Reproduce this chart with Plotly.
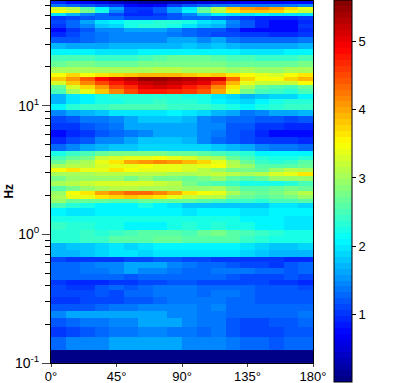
import plotly.graph_objects as go

ANGLE_EDGES = [0,10,20,30,40,50,60,70,80,90,100,110,120,130,140,150,160,170,180]
ANGLE_TICKS = [0,45,90,135,180]
ANGLE_LABELS = ["0°","45°","90°","135°","180°"]
FREQ_EDGES = [.100,.126,.159,.190,.223,.253,.286,.325,.368,.403,.440,.490,.545,.607,.663,.752,.851,.964,
 1.09,1.24,1.40,1.59,1.74,1.90,2.04,2.19,2.36,2.58,2.82,3.08,3.30,3.55,3.81,4.09,4.48,5.07,5.75,6.52,7.38,8.36,9.31,
 10.4,11.3,12.4,13.5,14.6,15.6,16.8,18.0,20.0,22.3,24.8,27.7,30.8,34.3,37.5,40.3,43.3,46.5,49.9,52.6,55.4,58.5,61.8,65.2]
POWER = [
[.1]*18,
[1.3,1.5,1.5,1.5,1.6,1.6,1.6,1.6,1.6,1.5,1.5,1.5,1.4,1.3,1.3,1.2,1.3,1.3],
[1.0,1.1,1.2,1.3,1.4,1.4,1.5,1.5,1.4,1.4,1.3,1.4,1.2,1.1,1.1,1.1,1.2,1.2],
[1.2,1.3,1.4,1.4,1.5,1.5,1.6,1.6,1.6,1.5,1.4,1.4,1.2,1.1,1.1,1.2,1.2,1.3],
[1.5,1.6,1.6,1.6,1.6,1.6,1.6,1.6,1.5,1.5,1.4,1.4,1.3,1.3,1.3,1.3,1.3,1.4],
[1.2,1.2,1.2,1.3,1.4,1.4,1.5,1.5,1.5,1.5,1.4,1.5,1.3,1.3,1.3,1.3,1.3,1.3],
[1.0,1.0,1.1,1.1,1.1,1.2,1.2,1.3,1.4,1.4,1.4,1.4,1.3,1.3,1.2,1.2,1.2,1.2],
[1.1,1.1,1.1,1.2,1.1,1.3,1.3,1.4,1.4,1.4,1.3,1.4,1.4,1.3,1.2,1.2,1.2,1.2],
[1.1,1.0,1.0,1.2,1.3,1.2,1.3,1.4,1.4,1.4,1.3,1.3,1.3,1.3,1.2,1.2,1.2,1.1],
[1.0,.9,.9,.9,1.0,1.0,1.1,1.1,1.2,1.2,1.1,1.1,1.1,1.1,1.1,1.0,1.0,.9],
[1.3,1.3,1.3,1.3,1.3,1.2,1.3,1.3,1.3,1.3,1.3,1.3,1.2,1.1,1.1,1.1,1.2,1.1],
[1.3,1.3,1.4,1.4,1.5,1.6,1.5,1.5,1.4,1.3,1.3,1.4,1.4,1.4,1.3,1.3,1.2,1.3],
[1.3,1.3,1.4,1.5,1.5,1.6,1.6,1.6,1.5,1.4,1.3,1.3,1.2,1.1,1.1,1.0,1.2,1.3],
[1.1,1.0,1.0,1.0,1.0,1.1,1.1,1.2,1.2,1.1,1.1,1.0,1.0,1.0,1.0,1.0,.9,.9],
[1.7,1.7,1.8,1.9,2.0,2.0,1.9,2.0,2.0,2.0,2.0,2.0,2.0,1.9,1.8,1.7,1.7,1.7],
[1.7,1.8,1.8,1.9,2.0,1.9,2.0,2.1,2.1,2.1,2.1,2.1,2.1,2.0,1.9,1.8,1.8,1.9],
[2.3,2.3,2.4,2.4,2.6,2.6,2.6,2.7,2.7,2.6,2.6,2.6,2.6,2.4,2.3,2.2,2.2,2.2],
[2.3,2.3,2.4,2.3,2.4,2.5,2.6,2.6,2.6,2.5,2.7,2.8,2.6,2.5,2.4,2.3,2.2,2.2],
[2.4,2.3,2.3,2.2,2.2,2.1,2.1,2.1,2.2,2.3,2.2,2.3,2.2,2.2,2.1,2.1,2.0,2.0],
[2.2,2.2,2.2,2.2,2.2,2.2,2.2,2.2,2.2,2.2,2.2,2.2,2.2,2.1,2.1,2.1,2.0,2.0],
[2.1,2.0,2.0,2.1,2.1,2.1,2.1,2.1,2.1,2.0,2.1,2.1,2.1,2.0,2.0,2.1,2.1,2.1],
[2.5,2.3,2.2,2.1,2.1,2.1,2.2,2.1,2.0,1.8,1.8,1.8,1.8,1.8,1.8,2.0,2.0,1.9],
[2.9,2.7,2.7,2.7,2.6,2.6,2.7,2.7,2.7,2.7,2.6,2.5,2.4,2.4,2.3,2.5,2.5,2.6],
[3.0,3.4,3.4,3.6,3.7,3.8,3.7,3.6,3.4,3.2,3.1,3.1,2.8,2.7,2.6,2.7,2.8,2.9],
[2.9,3.5,3.6,4.0,4.2,4.3,4.3,4.2,4.0,3.6,3.5,3.4,3.0,2.8,2.7,2.8,2.9,3.1],
[2.6,2.8,2.9,3.0,3.1,3.1,3.0,3.0,3.0,2.9,2.9,3.0,2.8,2.6,2.6,2.7,2.8,2.7],
[3.0,3.1,3.2,3.3,3.3,3.3,3.3,3.2,3.1,2.8,2.6,2.5,2.4,2.2,2.2,2.2,2.3,2.5],
[2.8,2.9,2.9,2.9,2.9,2.8,2.9,2.8,2.8,2.7,2.8,2.9,2.7,2.6,2.7,2.9,2.9,2.9],
[3.0,3.0,3.0,3.1,3.1,3.1,3.1,3.1,3.0,3.0,3.1,3.2,3.1,3.0,3.1,3.3,3.4,3.6],
[3.5,3.6,3.4,3.4,3.6,3.5,3.4,3.4,3.4,3.3,3.1,2.9,2.8,2.8,2.7,2.9,3.1,3.0],
[3.0,3.1,3.1,3.3,3.4,3.4,3.5,3.4,3.4,3.3,3.4,3.5,3.1,2.9,2.6,2.6,2.6,2.7],
[2.7,2.9,3.0,3.4,3.6,4.0,4.1,4.2,4.1,3.9,3.7,3.4,3.0,2.7,2.4,2.3,2.4,2.6],
[2.5,2.7,2.8,3.2,3.3,3.4,3.4,3.5,3.4,3.3,3.1,3.0,2.7,2.5,2.3,2.2,2.2,2.3],
[2.2,2.4,2.5,2.7,2.8,2.8,2.8,2.8,2.7,2.7,2.6,2.5,2.4,2.3,2.1,2.1,2.1,2.1],
[1.3,1.5,1.6,1.7,1.8,1.8,1.9,1.9,1.9,1.9,1.9,1.8,1.7,1.6,1.5,1.4,1.4,1.3],
[.9,1.1,1.2,1.5,1.5,1.6,1.8,1.8,1.8,1.7,1.5,1.3,1.2,1.1,1.0,1.0,1.0,.9],
[.8,.9,1.0,1.2,1.3,1.4,1.5,1.6,1.6,1.6,1.5,1.4,1.2,1.1,.9,.8,.8,.8],
[1.0,1.0,1.2,1.3,1.4,1.6,1.6,1.6,1.6,1.6,1.5,1.5,1.2,1.2,1.0,1.0,.9,.9],
[1.1,1.2,1.4,1.4,1.5,1.6,1.8,1.8,1.8,1.7,1.5,1.4,1.3,1.3,1.2,1.2,1.1,1.2],
[1.5,1.6,1.7,1.8,2.0,2.0,2.0,2.0,2.1,2.0,1.9,1.7,1.6,1.4,1.5,1.6,1.6,1.7],
[2.1,2.3,2.4,2.4,2.5,2.5,2.5,2.5,2.4,2.4,2.4,2.3,2.2,2.1,2.2,2.3,2.4,2.4],
[1.7,2.0,2.1,2.2,2.2,2.3,2.3,2.4,2.3,2.3,2.2,2.1,2.0,1.9,2.1,2.2,2.3,2.3],
[1.7,2.0,2.1,2.2,2.3,2.3,2.3,2.3,2.3,2.2,2.2,2.0,1.9,1.7,1.8,1.9,1.9,2.1],
[2.5,3.0,3.4,3.8,4.2,4.5,4.8,4.8,4.7,4.6,4.4,4.0,3.4,2.8,2.5,2.4,2.3,2.5],
[2.7,3.3,3.7,4.1,4.5,4.7,5.0,5.1,5.0,4.8,4.6,4.2,3.6,3.0,2.7,2.6,2.5,2.7],
[3.3,3.8,4.2,4.5,4.8,5.0,5.2,5.3,5.2,5.1,5.0,4.6,3.9,3.4,3.2,3.2,3.2,3.5],
[3.8,4.1,4.4,4.9,5.1,5.3,5.5,5.5,5.4,5.3,5.2,5.1,4.3,3.7,3.5,3.5,3.7,3.9],
[3.5,3.7,3.5,3.6,3.7,3.8,3.9,3.9,3.9,3.8,3.7,3.8,3.6,3.5,3.4,3.3,3.5,3.6],
[3.0,3.0,3.0,3.0,3.0,3.0,3.0,3.1,3.1,3.0,3.0,3.0,2.9,3.0,2.9,2.9,3.0,3.0],
[2.7,2.8,2.8,2.7,2.7,2.7,2.8,2.8,2.8,2.8,2.8,2.8,2.7,2.7,2.7,2.7,2.7,2.8],
[2.5,2.5,2.5,2.4,2.4,2.4,2.5,2.6,2.7,2.7,2.7,2.6,2.5,2.5,2.4,2.4,2.4,2.5],
[2.1,2.1,2.1,2.0,2.0,2.0,2.1,2.1,2.1,2.1,2.1,2.1,2.1,2.0,2.0,2.0,2.1,2.1],
[1.7,1.6,1.6,1.6,1.7,1.7,1.7,1.7,1.7,1.8,1.7,1.8,1.7,1.6,1.6,1.6,1.6,1.7],
[1.2,1.2,1.3,1.4,1.5,1.5,1.5,1.5,1.6,1.6,1.5,1.6,1.4,1.3,1.3,1.3,1.3,1.4],
[.9,1.1,1.3,1.4,1.5,1.5,1.5,1.5,1.4,1.3,1.2,1.1,1.1,1.0,1.0,.9,.9,1.0],
[.8,1.0,1.2,1.5,1.5,1.6,1.6,1.6,1.5,1.3,1.2,1.2,1.0,.8,.8,.8,.8,.9],
[1.0,1.3,1.5,1.8,1.9,2.2,2.3,2.3,2.2,2.0,1.8,1.7,1.4,1.2,.9,.8,.8,1.0],
[1.1,1.3,1.6,2.0,2.1,2.2,2.2,2.3,2.3,2.2,2.0,1.9,1.5,1.2,.9,.8,.8,.9],
[1.0,1.1,1.2,1.3,1.3,1.1,1.1,1.1,1.2,1.3,1.3,1.2,1.1,1.0,.9,.9,.9,1.0],
[2.0,1.7,1.5,1.3,1.1,.9,.9,1.0,1.2,1.5,1.8,2.1,2.0,2.0,2.1,2.0,2.0,2.0],
[3.5,3.3,2.8,2.2,1.5,1.0,.9,1.2,1.6,2.1,2.7,3.1,3.6,3.8,3.8,3.7,3.4,3.2],
[3.3,3.1,2.6,2.1,1.6,1.0,1.0,1.2,1.6,2.0,2.6,3.1,3.8,4.1,4.2,4.0,3.7,3.4],
[1.4,1.3,1.2,1.1,1.0,.8,.7,.8,1.0,1.2,1.3,1.4,1.4,1.4,1.4,1.4,1.4,1.5],
[.9,.8,.7,.6,.4,.3,.2,.2,.3,.4,.5,.5,.6,.7,.7,.7,.8,.8],
]
Y_MAJOR = [0.1, 1, 10]
Y_LABELS = ["10<sup>-1</sup>", "10<sup>0</sup>", "10<sup>1</sup>"]
Y_MINOR = [.2,.3,.4,.5,.6,.7,.8,.9,2,3,4,5,6,7,8,9,20,30,40,50,60]
CBAR_TICKS = [1,2,3,4,5]

def jet(t):
    f = lambda a: max(0.0, min(1.0, 1.5 - abs(4*t - a)))
    return "rgb(%d,%d,%d)" % (255*f(3), 255*f(2), 255*f(1))

N = 64
scale = []
for i in range(N):
    c = jet((i + 0.5) / N)
    scale += [[i / N, c], [(i + 1) / N, c]]

W, H = 418, 383
L, R, T, B = 51, 313, 1, 363
FONT = "Liberation Sans, Arial, sans-serif"

fig = go.Figure(go.Heatmap(
    x=ANGLE_EDGES, y=FREQ_EDGES, z=POWER, zmin=0.02, zmax=5.6, colorscale=scale, zsmooth=False,
    colorbar=dict(
        thickness=18, thicknessmode="pixels", lenmode="pixels", len=382,
        x=(334 - L) / (R - L), xanchor="left", xpad=0,
        y=1 + T / (B - T) , yanchor="top", ypad=0,
        outlinecolor="black", outlinewidth=1, borderwidth=0,
        tickvals=CBAR_TICKS, ticks="outside", ticklen=4, tickcolor="black",
        tickfont=dict(size=13, color="black", family=FONT)),
))
fig.update_layout(
    width=W, height=H, margin=dict(l=L, r=W - R, t=T, b=H - B, autoexpand=False, pad=0),
    paper_bgcolor="white", plot_bgcolor="white", font=dict(family=FONT, size=13, color="black"),
    xaxis=dict(range=[0, 180], tickvals=ANGLE_TICKS, ticktext=ANGLE_LABELS, ticks="outside", ticklen=3,
               ticklabelstandoff=-2,
               showgrid=False, zeroline=False, showline=True, mirror=True, linecolor="black", linewidth=1,
               tickfont=dict(size=13)),
    yaxis=dict(type="log", range=[-1, 1.814], tickvals=Y_MAJOR, ticktext=Y_LABELS, ticks="outside", ticklen=8,
               minor=dict(tickvals=Y_MINOR, ticks="outside", ticklen=5, showgrid=False, tickcolor="black"),
               showgrid=False, zeroline=False, showline=True, mirror=True, linecolor="black", linewidth=1,
               tickfont=dict(size=14)),
    annotations=[dict(text="<b>Hz</b>", xref="paper", yref="paper", x=-41.5 / (R - L), y=0.475,
                      xanchor="center", yanchor="middle", textangle=-90, showarrow=False,
                      font=dict(size=12, color="black"))],
)
fig.write_html("out.html", config={"displayModeBar": False},
               post_script="document.body.style.margin='0';document.documentElement.style.overflow='hidden';")
